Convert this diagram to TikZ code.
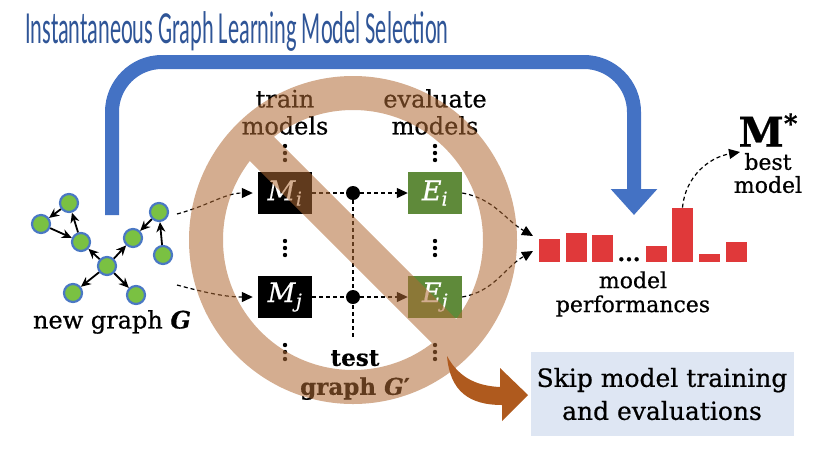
\documentclass[tikz,border=0pt]{standalone}
\usepackage{fontspec}
\setmainfont{DejaVu Serif}[FakeBold=0.6]
\newfontfamily\titlefont[FakeStretch=0.485]{Carlito}
\usetikzlibrary{arrows.meta,positioning,calc}
\definecolor{titleblue}{HTML}{2F5597}
\definecolor{arrowblue}{HTML}{4472C4}
\definecolor{nodegreen}{HTML}{7AC142}
\definecolor{nodeedge}{HTML}{4A78C4}
\definecolor{evalgreen}{HTML}{5F8A3A}
\definecolor{barred}{HTML}{E0393A}
\definecolor{bancolor}{HTML}{B06A35}
\definecolor{skiporange}{HTML}{AF5A1E}
\definecolor{skipfill}{HTML}{DEE6F3}
\newcommand{\fsz}[2]{\fontsize{#1}{#2}\selectfont}
\newcommand{\msub}[2]{\textit{#1}\textsubscript{\textit{#2}}}

\begin{document}
\begin{tikzpicture}[
  x=1pt, y=-1pt,
  gnode/.style={circle, draw=nodeedge, fill=nodegreen, line width=2.2pt,
                minimum size=18pt, inner sep=0pt},
  garr/.style={-{Stealth[length=10pt,width=9pt]}, line width=1.8pt},
  mbox/.style={minimum width=54pt, minimum height=42pt, inner sep=0pt,
               text=white, font=\fsz{27}{30}},
  jdot/.style={circle, fill=black, minimum size=14pt, inner sep=0pt},
  lbl/.style={align=center, inner sep=0pt, font=\fsz{24}{27}},
  dline/.style={dash pattern=on 4pt off 3pt, line width=1.2pt},
  darr/.style={dline, -{Triangle[length=11pt,width=10pt]}},
  bar/.style={fill=barred, minimum width=21pt, inner sep=0pt, anchor=south},
  bigarr/.style={draw=arrowblue, line width=14pt, rounded corners=50pt,
                 -{Triangle[length=26pt,width=45pt]}},
  ban/.style={draw=bancolor, line width=34pt, draw opacity=0.55},
  skipbox/.style={fill=skipfill, minimum width=263pt, minimum height=84pt,
                  align=center, font=\fsz{25}{33}}
]
  \useasboundingbox (0,0) rectangle (819,456);

  \node[anchor=west, inner sep=0pt, text=titleblue, font=\titlefont\fsz{46}{50}] (title) at (25,31)
    {Instantaneous Graph Learning Model Selection};

  \coordinate (bluestart) at (112,215);
  \coordinate (blueend) at (634,215);
  \draw[bigarr] (bluestart) -- (112,62) -- (634,62) -- (blueend);

  \node[gnode] (ga) at (69,203) {};
  \node[gnode] (gb) at (41,224) {};
  \node[gnode] (gc) at (81,242) {};
  \node[gnode] (gd) at (107,266) {};
  \node[gnode] (ge) at (133,238) {};
  \node[gnode] (gf) at (159,212) {};
  \node[gnode] (gg) at (163,255) {};
  \node[gnode] (gh) at (73,293) {};
  \node[gnode] (gi) at (136,295) {};
  \draw[garr] (ga) -- (gb);
  \draw[garr] (gb) -- (gc);
  \draw[garr] (gc) -- (ga);
  \draw[garr] (gd) -- (gc);
  \draw[garr] (gd) -- (ge);
  \draw[garr] (gf) -- (ge);
  \draw[garr] (gg) -- (gf);
  \draw[garr] (gd) -- (gh);
  \draw[garr] (gd) -- (gi);
  \node[lbl] (newlbl) at (112,322) {new graph \textbf{\textit{G}}};

  \node[mbox, fill=black] (Mi) at (285,193) {\msub{M}{i}};
  \node[mbox, fill=black] (Mj) at (285,297) {\msub{M}{j}};
  \node[mbox, fill=evalgreen] (Ei) at (435,193) {\msub{E}{i}};
  \node[mbox, fill=evalgreen] (Ej) at (435,297) {\msub{E}{j}};

  \foreach \px/\py in {285/153,285/248,285/352,435/153,435/248,435/352}
    \foreach \dy in {-7,0,7}
      \fill (\px,\py+\dy) circle (2.2);
  \coordinate (mtop) at (285,145);
  \coordinate (etop) at (435,145);
  \node[lbl, above=10pt of mtop] (trainlbl) {train\\models};
  \node[lbl, above=10pt of etop] (evallbl) {evaluate\\models};

  \node[jdot] (Ji) at (353,193) {};
  \node[jdot] (Jj) at (353,297) {};
  \coordinate (Jend) at (353,338);
  \draw[dline] (Mi) -- (Ji);
  \draw[dline] (Mj) -- (Jj);
  \draw[darr] (Ji) -- (Ei);
  \draw[darr] (Jj) -- (Ej);
  \draw[dline] (Ji) -- (Jend);
  \node[lbl, font=\bfseries\fsz{23}{29}] (testlbl) at (355,375) {test\\graph \textit{G}′};

  \coordinate (gout1) at (177,214);
  \coordinate (gout2) at (177,285);
  \draw[darr, shorten >=5pt] (gout1) to[out=15,in=180] (Mi.west);
  \draw[darr, shorten >=5pt] (gout2) to[out=-15,in=180] (Mj.west);

  \foreach \x/\h [count=\k] in {549.5/23,576.5/29,602.5/27,656.5/16,682.5/54,709.5/8,736.5/20}
    \node[bar, minimum height=\h] (bar\k) at (\x,262) {};
  \node[anchor=base, inner sep=0pt, font=\bfseries\fsz{22}{22}] (bdots) at (629,261) {...};
  \node[lbl, font=\fsz{22}{24}] (perflbl) at (633,294) {model\\performances};

  \coordinate (pin1) at (533,236);
  \coordinate (pin2) at (533,251);
  \draw[darr] (Ei.east) to[out=-10,in=150] (pin1);
  \draw[darr] (Ej.east) to[out=10,in=210] (pin2);

  \node[inner sep=0pt, font=\bfseries\fsz{41}{41}] (Mstar) at (768,130) {M\raisebox{14pt}{\fsz{26}{26}*}};
  \node[lbl, font=\fsz{22}{23}, below=6pt of Mstar] (bestlbl) {best\\model};
  \coordinate (bestin) at (740,152);
  \draw[darr] (bar5.north) to[out=85,in=190] (bestin);

  \coordinate (banc) at (353,240);
  \draw[ban] (banc) circle (147) ($(banc)+(-104,-104)$) -- ($(banc)+(104,104)$);

  \fill[skiporange] (447,356) .. controls (460,380) and (480,386) .. (500,387)
    -- (500,368) -- (528,395) -- (502,421) -- (502,405)
    .. controls (470,405) and (450,392) .. (447,356) -- cycle;

  \node[skipbox] (skip) at (662,394) {Skip model training\\and evaluations};
\end{tikzpicture}
\end{document}
